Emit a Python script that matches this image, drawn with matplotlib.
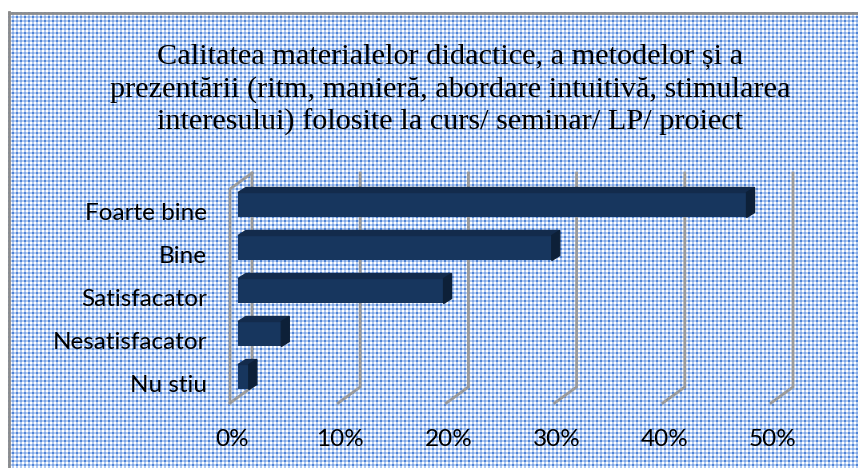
import numpy as np
import matplotlib
matplotlib.use("Agg")
import matplotlib.pyplot as plt
from matplotlib.patches import Polygon

categories = ["Foarte bine", "Bine", "Satisfacator", "Nesatisfacator", "Nu stiu"]
values = [47, 29, 19, 4, 1]
ticks = [0, 10, 20, 30, 40, 50]
tick_labels = ["0%", "10%", "20%", "30%", "40%", "50%"]
title = ("Calitatea materialelor didactice, a metodelor și a\n"
         "prezentării (ritm, manieră, abordare intuitivă, stimularea\n"
         "interesului) folosite la curs/ seminar/ LP/ proiect")

W, H = 858, 468
fig = plt.figure(figsize=(W / 100, H / 100), dpi=100)
fig.patch.set_facecolor("white")

# patterned background (blue checker), frame starts at (8, 12)
yy, xx = np.mgrid[0:H, 0:W]
white = np.array([1.0, 1.0, 1.0])
blue = np.array([0x4f, 0x84, 0xd6]) / 255
mid = np.array([0x7f, 0xa6, 0xe4]) / 255
light = np.array([0xb4, 0xcc, 0xf2]) / 255
img = np.ones((H, W, 3))
colx = (xx % 4) < 2
coly = (yy % 4) < 2
inter = colx & coly
alt = ((xx // 4) + (yy // 4)) % 2 == 0
img[colx ^ coly] = light
img[inter & alt] = blue
img[inter & ~alt] = mid
img[:12, :] = white
img[:, :8] = white
fig.figimage(img, xo=0, yo=0, origin="upper", zorder=0)

ax = fig.add_axes([0, 0, 1, 1])
ax.set_zorder(2)
ax.set_facecolor("none")
px = 10.82  # pixels per percent
x0 = 238
ax.set_xlim(-x0 / px, (W - x0) / px)
ax.set_ylim((H - 205) / 43, -205 / 43)
ax.axis("off")

def ypx(p):
    return (p - 205) / 43

# frame border
ax.plot([-(x0 - 9) / px, -(x0 - 9) / px], [ypx(12), ypx(H)], color="#8c8c8c", lw=2, zorder=1)
ax.plot([-(x0 - 9) / px, (W - x0) / px], [ypx(13), ypx(13)], color="#8c8c8c", lw=2, zorder=1)

# 3D gridlines
back_dx = 14 / px
front_dx = -8 / px
yb_top, yb_bot, yf_bot = ypx(173), ypx(387), ypx(403)
gc = "#9a9a9a"
for t in ticks:
    ax.plot([t + back_dx, t + back_dx, t + front_dx], [yb_top, yb_bot, yf_bot],
            color=gc, lw=2.0, zorder=2, solid_joinstyle="miter")
# left wall front edge
ax.plot([back_dx, front_dx, front_dx], [yb_top, ypx(189), yf_bot], color=gc, lw=2.0, zorder=2)

# bars
bh = 25 / 43
ddx, ddy = 8 / px, 5 / 43
c_front, c_top, c_side = "#17365e", "#132b4c", "#0d2038"
for i, v in enumerate(values):
    top, bot = i - bh / 2, i + bh / 2
    ax.barh(i, v, height=bh, left=0, color=c_front, zorder=3)
    ax.add_patch(Polygon([(0, top), (v, top), (v + ddx, top - ddy), (ddx, top - ddy)],
                         closed=True, color=c_top, zorder=3))
    ax.add_patch(Polygon([(v, top), (v, bot), (v + ddx, bot - ddy), (v + ddx, top - ddy)],
                         closed=True, color=c_side, zorder=3))
    ax.text(-31 / px, i + 9 / 43, categories[i], ha="right", va="center",
            fontsize=17.5, family="Lato", color="black", zorder=4)

for t, lab in zip(ticks, tick_labels):
    ax.text(t + front_dx + 2 / px, ypx(440), lab, ha="center", va="center",
            fontsize=17.5, family="Lato", color="black", zorder=4)

fig.text(450 / W, 1 - 90 / H, title, ha="center", va="center", fontsize=21.8,
         family="Liberation Serif", linespacing=1.3, color="black", zorder=5)

fig.savefig("out.png", dpi=100)
